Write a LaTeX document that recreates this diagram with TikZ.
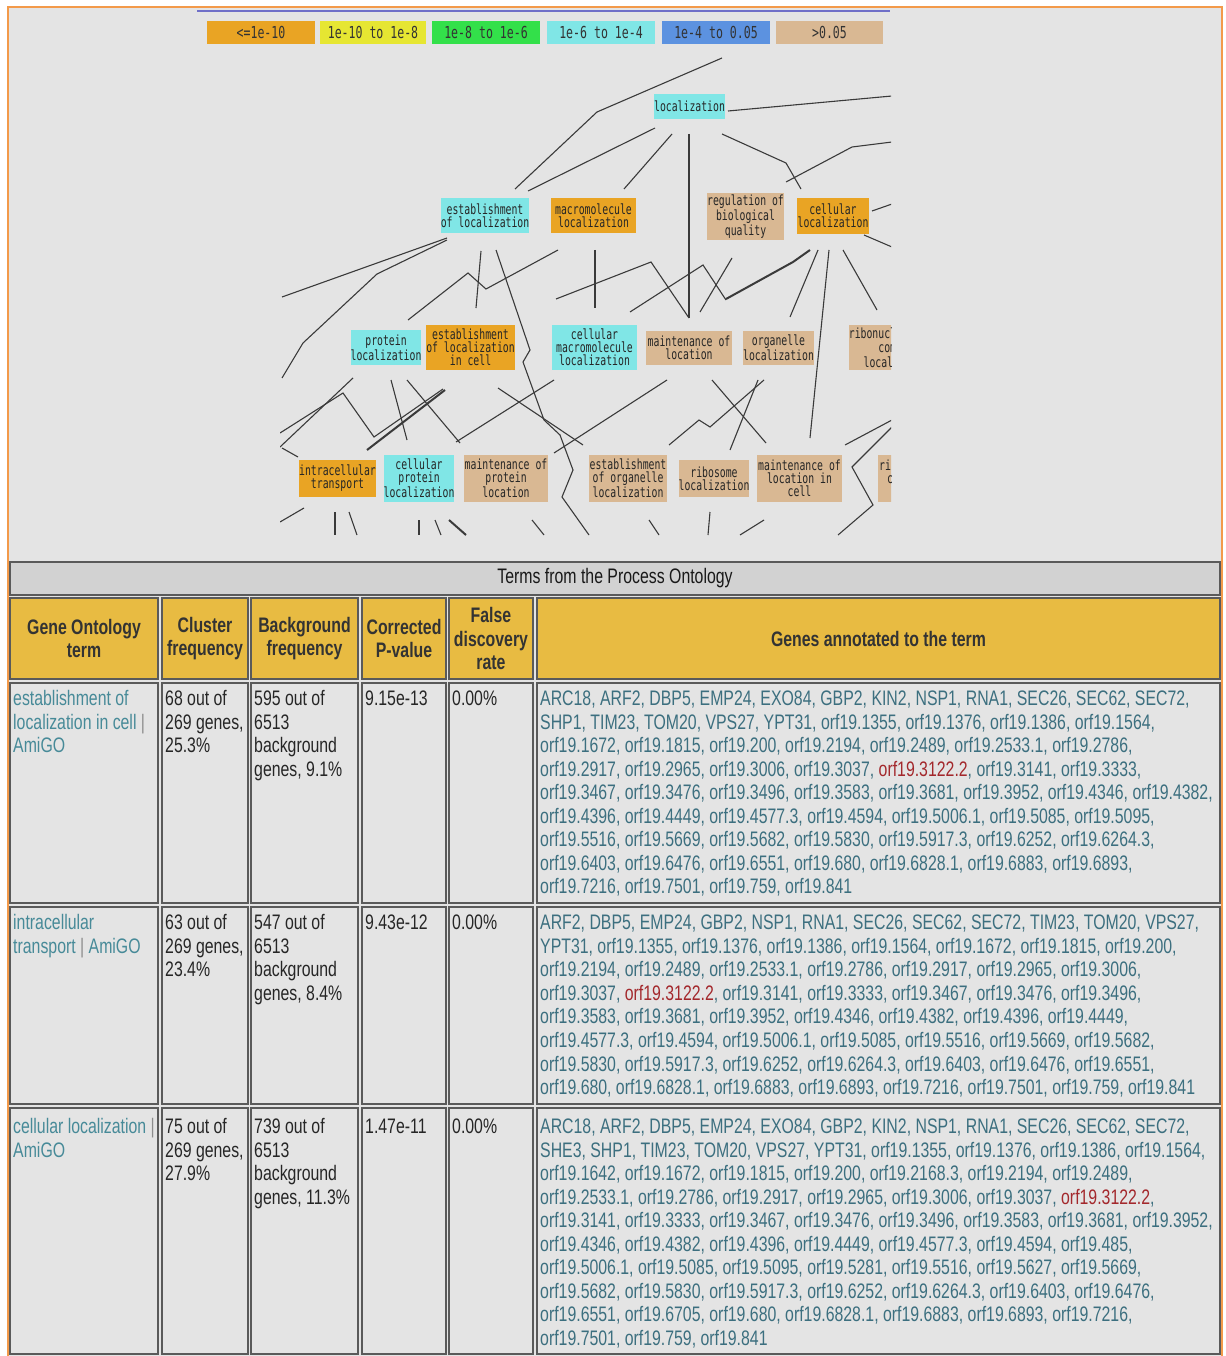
\documentclass[tikz,border=0pt]{standalone}
\usepackage{fontspec}
\setmainfont{Liberation Sans}[FakeStretch=0.755]
\newfontfamily\gofont{DejaVu Sans Mono}[FakeStretch=0.70]
\newfontfamily\keyfont{DejaVu Sans Mono}[FakeStretch=0.70]
\newcommand\tblfont{\fontsize{21}{23.6}\selectfont}

\definecolor{pageBg}{HTML}{E4E4E4}
\definecolor{frameOr}{HTML}{F39A4A}
\definecolor{topRule}{HTML}{6F6FC8}
\definecolor{sigOr}{HTML}{E9A424}
\definecolor{sigYe}{HTML}{E6E632}
\definecolor{sigGr}{HTML}{33E04A}
\definecolor{sigCy}{HTML}{80E6E6}
\definecolor{sigBl}{HTML}{5C92E0}
\definecolor{sigTan}{HTML}{D9B893}
\definecolor{hdrGold}{HTML}{E8BB42}
\definecolor{titleGray}{HTML}{D2D2D2}
\definecolor{cellLine}{HTML}{5A5A5A}
\definecolor{linkTeal}{HTML}{478A98}
\definecolor{geneTeal}{HTML}{3C6F7F}
\definecolor{hitRed}{HTML}{A3282C}
\definecolor{edgeGray}{HTML}{3A3A3A}

\tikzset{
  gonode/.style={inner sep=0pt, align=center, font=\gofont\fontsize{14}{13}\selectfont, text=black!85},
  legkey/.style={inner sep=0pt, minimum height=23pt, font=\keyfont\fontsize{16.5}{16.5}\selectfont, text=black!80},
  edge/.style={draw=edgeGray, line width=1.1pt},
  heavy/.style={draw=edgeGray, line width=2pt},
  cellbox/.style={draw=cellLine, line width=1.6pt, fill=pageBg},
  hdrbox/.style={draw=cellLine, line width=1.6pt, fill=hdrGold},
  hdrtext/.style={font=\tblfont\bfseries, text=black!80, align=center, inner sep=0pt},
  celltext/.style={font=\tblfont, text=black!85, anchor=base west, inner sep=0pt},
  linktext/.style={celltext, text=linkTeal},
  genetext/.style={celltext, text=geneTeal},
}
\newcommand\sepbar{{\color{black!45}|}}
\newcommand\hit[1]{\textcolor{hitRed}{#1}}

\begin{document}
\begin{tikzpicture}[x=1pt,y=-1pt]
\useasboundingbox (0,0) rectangle (1225,1356);
\fill[white] (0,0) rectangle (1225,1356);
\fill[pageBg] (8,8) rectangle (1222,1358);
\draw[frameOr, line width=2.5pt] (8,1360) -- (8,7) -- (1222,7) -- (1222,1360);
\draw[topRule, line width=2pt] (197,11) -- (890,11);

% significance key
\node[legkey, fill=sigOr,  minimum width=108pt] (k1) at (261,32.5)   {<=1e-10};
\node[legkey, fill=sigYe,  minimum width=106pt] (k2) at (373,32.5)   {1e-10 to 1e-8};
\node[legkey, fill=sigGr,  minimum width=108pt] (k3) at (486,32.5)   {1e-8 to 1e-6};
\node[legkey, fill=sigCy,  minimum width=108pt] (k4) at (601,32.5)   {1e-6 to 1e-4};
\node[legkey, fill=sigBl,  minimum width=108pt] (k5) at (716,32.5)   {1e-4 to 0.05};
\node[legkey, fill=sigTan, minimum width=107pt] (k6) at (829.5,32.5) {>0.05};

% ontology graph (cropped view)
\begin{scope}
\clip (280,45) rectangle (891,540);
\draw[edge] (515,189) -- (597,112) -- (722,58);
\draw[edge] (528,191) -- (655,128);
\draw[edge] (624,189) -- (672,134);
\draw[edge] (689,134) -- (689,318);
\draw[edge] (722,134) -- (786,163) -- (801,189);
\draw[edge] (728,111) -- (892,96);
\draw[edge] (786,182) -- (852,147) -- (892,142);
\draw[edge] (872,211) -- (892,204);
\draw[edge] (864,235) -- (892,247);
\draw[edge] (447,238) -- (282,297);
\draw[edge] (447,240) -- (377,274) -- (303,343) -- (282,378);
\draw[edge] (481,251) -- (476,308);
\draw[edge] (496,250) -- (530,350) -- (523,362) -- (544,420) -- (560,435) -- (573,470) -- (562,497) -- (589,535);
\draw[edge] (558,250) -- (486,289) -- (468,273) -- (408,320);
\draw[edge] (595,250) -- (595,308);
\draw[edge] (556,299) -- (651,262) -- (689,318);
\draw[edge] (630,312) -- (703,265) -- (726,300);
\draw[edge] (700,312) -- (732,258);
\draw[heavy] (726,299) -- (793,262) -- (810,250);
\draw[edge] (818,250) -- (790,317);
\draw[edge] (829,250) -- (810,438);
\draw[edge] (843,250) -- (877,310);
\draw[edge] (280,433) -- (343,393) -- (374,437) -- (443,389);
\draw[edge] (280,447) -- (353,378);
\draw[edge] (282,448) -- (298,457);
\draw[edge] (391,380) -- (407,440);
\draw[edge] (407,380) -- (460,443);
\draw[heavy] (367,450) -- (445,390);
\draw[edge] (498,388) -- (583,445);
\draw[edge] (554,380) -- (456,442);
\draw[edge] (667,380) -- (554,453);
\draw[edge] (712,380) -- (766,443);
\draw[edge] (758,380) -- (730,450);
\draw[edge] (764,380) -- (710,427) -- (699,420) -- (669,445);
\draw[edge] (845,445) -- (892,420);
\draw[edge] (892,427) -- (852,467) -- (873,505) -- (838,535);
\draw[edge] (280,522) -- (304,508);
\draw[edge] (335,512) -- (335,535);
\draw[edge] (349,512) -- (357,535);
\draw[edge] (419,520) -- (419,535);
\draw[edge] (435,520) -- (441,535);
\draw[heavy] (449,520) -- (466,535);
\draw[edge] (532,520) -- (544,535);
\draw[edge] (649,520) -- (659,535);
\draw[edge] (710,512) -- (708,535);
\draw[edge] (740,535) -- (764,520);

\node[gonode, fill=sigCy,  minimum width=71pt, minimum height=25pt] (loc)     at (689.5,106.5) {localization};
\node[gonode, fill=sigCy,  minimum width=82pt, minimum height=35pt] (estloc)  at (485,215.5)   {establishment\\of localization};
\node[gonode, fill=sigOr,  minimum width=85pt, minimum height=35pt] (macloc)  at (593.5,215.5) {macromolecule\\localization};
\node[gonode, fill=sigTan, minimum width=75pt, minimum height=47pt] (regbio)  at (745.5,216.5) {regulation of\\biological\\quality};
\node[gonode, fill=sigOr,  minimum width=72pt, minimum height=36pt] (cellloc) at (833,216)     {cellular\\localization};
\node[gonode, fill=sigCy,  minimum width=70pt, minimum height=35pt] (protloc) at (386,347.5)   {protein\\localization};
\node[gonode, fill=sigOr,  minimum width=79pt, minimum height=45pt] (estcell) at (470.5,347.5) {establishment\\of localization\\in cell};
\node[gonode, fill=sigCy,  minimum width=85pt, minimum height=45pt] (cmacro)  at (594.5,347.5) {cellular\\macromolecule\\localization};
\node[gonode, fill=sigTan, minimum width=86pt, minimum height=34pt] (mainloc) at (689,348)     {maintenance of\\location};
\node[gonode, fill=sigTan, minimum width=71pt, minimum height=34pt] (orgloc)  at (778.5,348)   {organelle\\localization};
\node[gonode, fill=sigTan, minimum width=94pt, minimum height=45pt] (rnploc)  at (899,347.5)   {ribonucleoprotein\\complex\\localization};
\node[gonode, fill=sigOr,  minimum width=69pt, minimum height=37pt] (intra)   at (337.5,478.5) {intracellular\\transport};
\node[gonode, fill=sigCy,  minimum width=70pt, minimum height=47pt] (cprot)   at (419,478.5)   {cellular\\protein\\localization};
\node[gonode, fill=sigTan, minimum width=84pt, minimum height=47pt] (mprot)   at (506,478.5)   {maintenance of\\protein\\location};
\node[gonode, fill=sigTan, minimum width=78pt, minimum height=47pt] (estorg)  at (628,478.5)   {establishment\\of organelle\\localization};
\node[gonode, fill=sigTan, minimum width=70pt, minimum height=37pt] (ribloc)  at (714,478.5)   {ribosome\\localization};
\node[gonode, fill=sigTan, minimum width=85pt, minimum height=47pt] (mlcell)  at (799.5,478.5) {maintenance of\\location in\\cell};
\node[gonode, fill=sigTan, minimum width=40pt, minimum height=47pt] (ribx)    at (898,478.5)   {};
\node[gonode, anchor=base west] (ribxa) at (879,470) {ri};
\node[gonode, anchor=base west] (ribxb) at (887,483) {c};
\end{scope}

% results table
\draw[cellbox, fill=titleGray] (10,562) rectangle (1220,595);
\node[font=\tblfont, text=black!90, inner sep=0pt] (ttl) at (615,578.5) {Terms from the Process Ontology};

\draw[hdrbox] (10,598) rectangle (158,679);
\draw[hdrbox] (162,598) rectangle (248,679);
\draw[hdrbox] (251,598) rectangle (358,679);
\draw[hdrbox] (362,598) rectangle (446,679);
\draw[hdrbox] (449,598) rectangle (533,679);
\draw[hdrbox] (537,598) rectangle (1220,679);
\node[hdrtext] (h1) at (84,638.5)    {Gene Ontology\\term};
\node[hdrtext] (h2) at (205,638.5)   {Cluster\\frequency};
\node[hdrtext] (h3) at (304.5,638.5) {Background\\frequency};
\node[hdrtext] (h4) at (404,638.5)   {Corrected\\P-value};
\node[hdrtext] (h5) at (491,638.5)   {False\\discovery\\rate};
\node[hdrtext] (h6) at (878.5,638.5) {Genes annotated to the term};

% row frames
\foreach \ya/\yb in {683/903, 907/1104, 1108/1354} {
  \draw[cellbox] (10,\ya) rectangle (158,\yb);
  \draw[cellbox] (162,\ya) rectangle (248,\yb);
  \draw[cellbox] (251,\ya) rectangle (358,\yb);
  \draw[cellbox] (362,\ya) rectangle (446,\yb);
  \draw[cellbox] (449,\ya) rectangle (533,\yb);
  \draw[cellbox] (537,\ya) rectangle (1220,\yb);
}

% row 1
\node[linktext] (a1) at (13,705.5) {establishment of};
\node[linktext] (a2) at (13,729)   {localization in cell \sepbar};
\node[linktext] (a3) at (13,752.5) {AmiGO};
\node[celltext] (b1) at (165,705.5) {68 out of};
\node[celltext] (b2) at (165,729)   {269 genes,};
\node[celltext] (b3) at (165,752.5) {25.3\%};
\node[celltext] (c1) at (254,705.5) {595 out of};
\node[celltext] (c2) at (254,729)   {6513};
\node[celltext] (c3) at (254,752.5) {background};
\node[celltext] (c4) at (254,776)   {genes, 9.1\%};
\node[celltext] (d1) at (365,705.5) {9.15e-13};
\node[celltext] (e1) at (452,705.5) {0.00\%};
\node[genetext] (g11) at (540,705.5) {ARC18, ARF2, DBP5, EMP24, EXO84, GBP2, KIN2, NSP1, RNA1, SEC26, SEC62, SEC72,};
\node[genetext] (g12) at (540,729)   {SHP1, TIM23, TOM20, VPS27, YPT31, orf19.1355, orf19.1376, orf19.1386, orf19.1564,};
\node[genetext] (g13) at (540,752.5) {orf19.1672, orf19.1815, orf19.200, orf19.2194, orf19.2489, orf19.2533.1, orf19.2786,};
\node[genetext] (g14) at (540,776)   {orf19.2917, orf19.2965, orf19.3006, orf19.3037, \hit{orf19.3122.2}, orf19.3141, orf19.3333,};
\node[genetext] (g15) at (540,799.5) {orf19.3467, orf19.3476, orf19.3496, orf19.3583, orf19.3681, orf19.3952, orf19.4346, orf19.4382,};
\node[genetext] (g16) at (540,823)   {orf19.4396, orf19.4449, orf19.4577.3, orf19.4594, orf19.5006.1, orf19.5085, orf19.5095,};
\node[genetext] (g17) at (540,846.5) {orf19.5516, orf19.5669, orf19.5682, orf19.5830, orf19.5917.3, orf19.6252, orf19.6264.3,};
\node[genetext] (g18) at (540,870)   {orf19.6403, orf19.6476, orf19.6551, orf19.680, orf19.6828.1, orf19.6883, orf19.6893,};
\node[genetext] (g19) at (540,893.5) {orf19.7216, orf19.7501, orf19.759, orf19.841};

% row 2
\node[linktext] (a4) at (13,929.5) {intracellular};
\node[linktext] (a5) at (13,953.1) {transport \sepbar\ AmiGO};
\node[celltext] (b4) at (165,929.5) {63 out of};
\node[celltext] (b5) at (165,953.1) {269 genes,};
\node[celltext] (b6) at (165,976.7) {23.4\%};
\node[celltext] (c5) at (254,929.5)  {547 out of};
\node[celltext] (c6) at (254,953.1)  {6513};
\node[celltext] (c7) at (254,976.7)  {background};
\node[celltext] (c8) at (254,1000.3) {genes, 8.4\%};
\node[celltext] (d2) at (365,929.5) {9.43e-12};
\node[celltext] (e2) at (452,929.5) {0.00\%};
\node[genetext] (g21) at (540,929.5)  {ARF2, DBP5, EMP24, GBP2, NSP1, RNA1, SEC26, SEC62, SEC72, TIM23, TOM20, VPS27,};
\node[genetext] (g22) at (540,953.1)  {YPT31, orf19.1355, orf19.1376, orf19.1386, orf19.1564, orf19.1672, orf19.1815, orf19.200,};
\node[genetext] (g23) at (540,976.7)  {orf19.2194, orf19.2489, orf19.2533.1, orf19.2786, orf19.2917, orf19.2965, orf19.3006,};
\node[genetext] (g24) at (540,1000.3) {orf19.3037, \hit{orf19.3122.2}, orf19.3141, orf19.3333, orf19.3467, orf19.3476, orf19.3496,};
\node[genetext] (g25) at (540,1023.9) {orf19.3583, orf19.3681, orf19.3952, orf19.4346, orf19.4382, orf19.4396, orf19.4449,};
\node[genetext] (g26) at (540,1047.5) {orf19.4577.3, orf19.4594, orf19.5006.1, orf19.5085, orf19.5516, orf19.5669, orf19.5682,};
\node[genetext] (g27) at (540,1071.1) {orf19.5830, orf19.5917.3, orf19.6252, orf19.6264.3, orf19.6403, orf19.6476, orf19.6551,};
\node[genetext] (g28) at (540,1094.7) {orf19.680, orf19.6828.1, orf19.6883, orf19.6893, orf19.7216, orf19.7501, orf19.759, orf19.841};

% row 3
\node[linktext] (a6) at (13,1133.5) {cellular localization \sepbar};
\node[linktext] (a7) at (13,1157.1) {AmiGO};
\node[celltext] (b7) at (165,1133.5) {75 out of};
\node[celltext] (b8) at (165,1157.1) {269 genes,};
\node[celltext] (b9) at (165,1180.6) {27.9\%};
\node[celltext] (c9)  at (254,1133.5) {739 out of};
\node[celltext] (c10) at (254,1157.1) {6513};
\node[celltext] (c11) at (254,1180.6) {background};
\node[celltext] (c12) at (254,1204.2) {genes, 11.3\%};
\node[celltext] (d3) at (365,1133.5) {1.47e-11};
\node[celltext] (e3) at (452,1133.5) {0.00\%};
\node[genetext] (g31) at (540,1133.5) {ARC18, ARF2, DBP5, EMP24, EXO84, GBP2, KIN2, NSP1, RNA1, SEC26, SEC62, SEC72,};
\node[genetext] (g32) at (540,1157.1) {SHE3, SHP1, TIM23, TOM20, VPS27, YPT31, orf19.1355, orf19.1376, orf19.1386, orf19.1564,};
\node[genetext] (g33) at (540,1180.6) {orf19.1642, orf19.1672, orf19.1815, orf19.200, orf19.2168.3, orf19.2194, orf19.2489,};
\node[genetext] (g34) at (540,1204.2) {orf19.2533.1, orf19.2786, orf19.2917, orf19.2965, orf19.3006, orf19.3037, \hit{orf19.3122.2},};
\node[genetext] (g35) at (540,1227.7) {orf19.3141, orf19.3333, orf19.3467, orf19.3476, orf19.3496, orf19.3583, orf19.3681, orf19.3952,};
\node[genetext] (g36) at (540,1251.3) {orf19.4346, orf19.4382, orf19.4396, orf19.4449, orf19.4577.3, orf19.4594, orf19.485,};
\node[genetext] (g37) at (540,1274.8) {orf19.5006.1, orf19.5085, orf19.5095, orf19.5281, orf19.5516, orf19.5627, orf19.5669,};
\node[genetext] (g38) at (540,1298.4) {orf19.5682, orf19.5830, orf19.5917.3, orf19.6252, orf19.6264.3, orf19.6403, orf19.6476,};
\node[genetext] (g39) at (540,1321.9) {orf19.6551, orf19.6705, orf19.680, orf19.6828.1, orf19.6883, orf19.6893, orf19.7216,};
\node[genetext] (g310) at (540,1345.5) {orf19.7501, orf19.759, orf19.841};
\end{tikzpicture}
\end{document}
